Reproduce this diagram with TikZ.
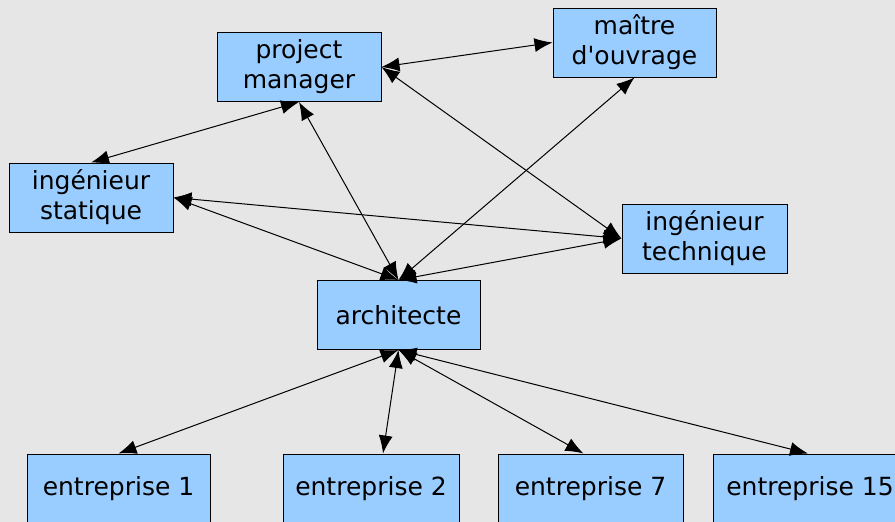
\documentclass[tikz,border=0pt]{standalone}
\usepackage{fontspec}
\setmainfont{DejaVu Sans}
\usetikzlibrary{shapes,arrows.meta}
\definecolor{boxblue}{HTML}{99CCFF}
\definecolor{backgrey}{HTML}{E6E6E6}

\begin{document}
\begin{tikzpicture}[x=1pt,y=-1pt,
  box/.style={shape=rectangle,draw=black,fill=boxblue,align=center,line width=1pt,minimum height=69pt,inner sep=0pt,font=\fontsize{25}{30}\selectfont},
  link/.style={draw=black,line width=1pt,arrows={Latex[length=18pt,width=14pt]-Latex[length=18pt,width=14pt]}}]
\clip (0,0) rectangle (895,522);
\fill[backgrey] (0,0) rectangle (895,522);

\node[box,minimum width=164pt] (pm) at (299,67) {project\\manager};
\node[box,minimum width=163pt] (mo) at (634.5,42.5) {maître\\d\textquotesingle ouvrage};
\node[box,minimum width=164pt] (is) at (91,197.5) {ingénieur\\statique};
\node[box,minimum width=165pt] (it) at (704.5,238.5) {ingénieur\\technique};
\node[box,minimum width=163pt] (ar) at (398.5,315) {architecte};
\node[box,minimum width=183pt] (e1) at (118.5,488.5) {entreprise 1};
\node[box,minimum width=176pt] (e2) at (371,488.5) {entreprise 2};
\node[box,minimum width=185pt] (e7) at (590.5,488.5) {entreprise 7};
\node[box,minimum width=194pt] (e15) at (810,488.5) {entreprise 15};

\draw [link] (pm.east) -- (mo.west);
\draw [link] (pm.east) -- (it.west);
\draw [link] (pm.south) -- (is.north);
\draw [link] (pm.south) -- (ar.north);
\draw [link] (mo.south) -- (ar.north);
\draw [link] (is.east) -- (it.west);
\draw [link] (is.east) -- (ar.north);
\draw [link] (ar.north) -- (it.west);

\draw [link] (ar.south) -- (e1.north);
\draw [link] (ar.south) -- ([xshift=12pt]e2.north);
\draw [link] (ar.south) -- ([xshift=-7pt]e7.north);
\draw [link] (ar.south) -- ([xshift=-2pt]e15.north);
\end{tikzpicture}
\end{document}
